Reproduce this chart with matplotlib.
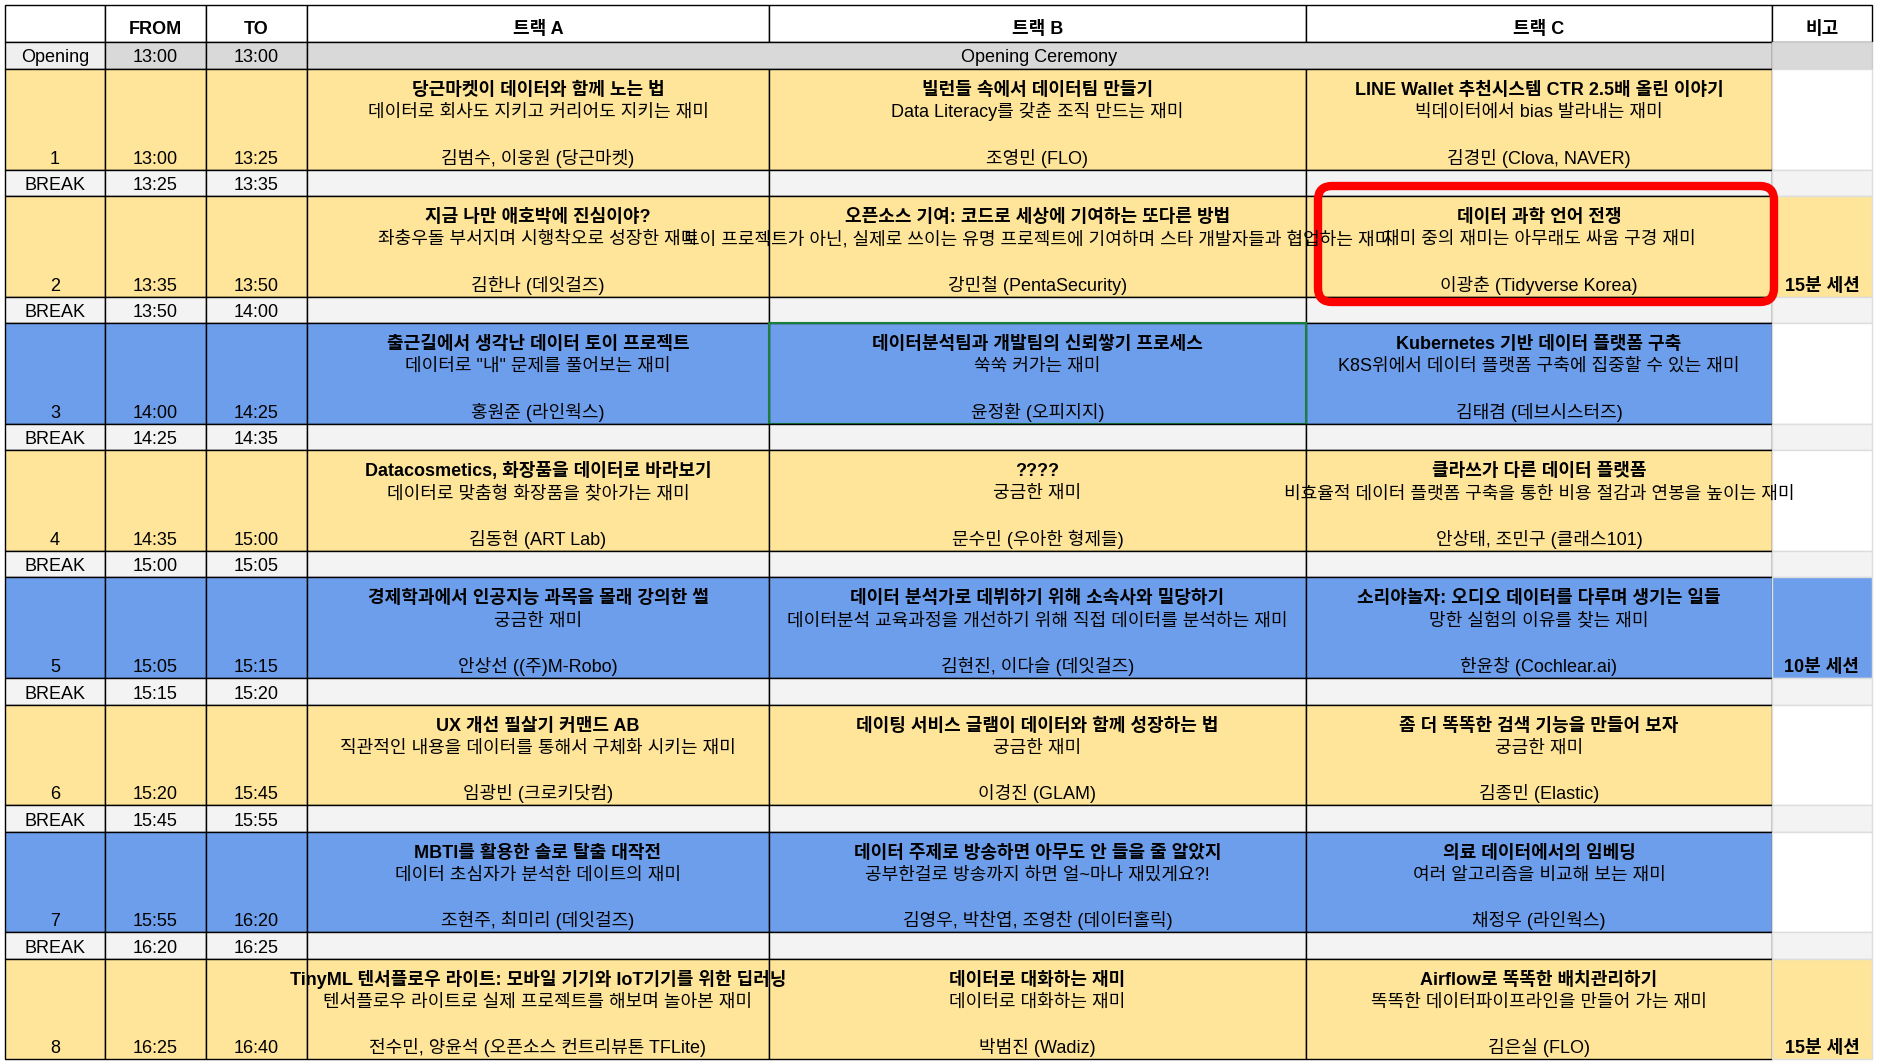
import matplotlib
matplotlib.use("Agg")
import matplotlib.pyplot as plt
from matplotlib.patches import Rectangle, FancyBboxPatch

plt.rcParams["font.family"] = ["Liberation Sans", "Noto Sans CJK KR", "DejaVu Sans"]

W, H = 1882, 1064
COLS = [5, 105, 206, 307, 769, 1306, 1772, 1872]
HEADERS = ["", "FROM", "TO", "트랙 A", "트랙 B", "트랙 C", "비고"]
HEADER_H, OPEN_H, SESS_H, BREAK_H = 37, 27, 100.5, 26.6

FROM = ["13:00", "13:35", "14:00", "14:35", "15:05", "15:20", "15:55", "16:25"]
TO = ["13:25", "13:50", "14:25", "15:00", "15:15", "15:45", "16:20", "16:40"]
BREAK_FROM = ["13:25", "13:50", "14:25", "15:00", "15:15", "15:45", "16:20"]
BREAK_TO = ["13:35", "14:00", "14:35", "15:05", "15:20", "15:55", "16:25"]
ROW_COLOR = ["y", "y", "b", "y", "b", "y", "b", "y"]
REMARKS = ["", "15분 세션", "", "", "10분 세션", "", "", "15분 세션"]

TITLES = [
    ["당근마켓이 데이터와 함께 노는 법", "빌런들 속에서 데이터팀 만들기", "LINE Wallet 추천시스템 CTR 2.5배 올린 이야기"],
    ["지금 나만 애호박에 진심이야?", "오픈소스 기여: 코드로 세상에 기여하는 또다른 방법", "데이터 과학 언어 전쟁"],
    ["출근길에서 생각난 데이터 토이 프로젝트", "데이터분석팀과 개발팀의 신뢰쌓기 프로세스", "Kubernetes 기반 데이터 플랫폼 구축"],
    ["Datacosmetics, 화장품을 데이터로 바라보기", "????", "클라쓰가 다른 데이터 플랫폼"],
    ["경제학과에서 인공지능 과목을 몰래 강의한 썰", "데이터 분석가로 데뷔하기 위해 소속사와 밀당하기", "소리야놀자: 오디오 데이터를 다루며 생기는 일들"],
    ["UX 개선 필살기 커맨드 AB", "데이팅 서비스 글램이 데이터와 함께 성장하는 법", "좀 더 똑똑한 검색 기능을 만들어 보자"],
    ["MBTI를 활용한 솔로 탈출 대작전", "데이터 주제로 방송하면 아무도 안 들을 줄 알았지", "의료 데이터에서의 임베딩"],
    ["TinyML 텐서플로우 라이트: 모바일 기기와 IoT기기를 위한 딥러닝", "데이터로 대화하는 재미", "Airflow로 똑똑한 배치관리하기"],
]
SUBTITLES = [
    ["데이터로 회사도 지키고 커리어도 지키는 재미", "Data Literacy를 갖춘 조직 만드는 재미", "빅데이터에서 bias 발라내는 재미"],
    ["좌충우돌 부서지며 시행착오로 성장한 재미", "토이 프로젝트가 아닌, 실제로 쓰이는 유명 프로젝트에 기여하며 스타 개발자들과 협업하는 재미", "재미 중의 재미는 아무래도 싸움 구경 재미"],
    ["데이터로 \"내\" 문제를 풀어보는 재미", "쑥쑥 커가는 재미", "K8S위에서 데이터 플랫폼 구축에 집중할 수 있는 재미"],
    ["데이터로 맞춤형 화장품을 찾아가는 재미", "궁금한 재미", "비효율적 데이터 플랫폼 구축을 통한 비용 절감과 연봉을 높이는 재미"],
    ["궁금한 재미", "데이터분석 교육과정을 개선하기 위해 직접 데이터를 분석하는 재미", "망한 실험의 이유를 찾는 재미"],
    ["직관적인 내용을 데이터를 통해서 구체화 시키는 재미", "궁금한 재미", "궁금한 재미"],
    ["데이터 초심자가 분석한 데이트의 재미", "공부한걸로 방송까지 하면 얼~마나 재밌게요?!", "여러 알고리즘을 비교해 보는 재미"],
    ["텐서플로우 라이트로 실제 프로젝트를 해보며 놀아본 재미", "데이터로 대화하는 재미", "똑똑한 데이터파이프라인을 만들어 가는 재미"],
]
SPEAKERS = [
    ["김범수, 이웅원 (당근마켓)", "조영민 (FLO)", "김경민 (Clova, NAVER)"],
    ["김한나 (데잇걸즈)", "강민철 (PentaSecurity)", "이광춘 (Tidyverse Korea)"],
    ["홍원준 (라인웍스)", "윤정환 (오피지지)", "김태겸 (데브시스터즈)"],
    ["김동현 (ART Lab)", "문수민 (우아한 형제들)", "안상태, 조민구 (클래스101)"],
    ["안상선 ((주)M-Robo)", "김현진, 이다슬 (데잇걸즈)", "한윤창 (Cochlear.ai)"],
    ["임광빈 (크로키닷컴)", "이경진 (GLAM)", "김종민 (Elastic)"],
    ["조현주, 최미리 (데잇걸즈)", "김영우, 박찬엽, 조영찬 (데이터홀릭)", "채정우 (라인웍스)"],
    ["전수민, 양윤석 (오픈소스 컨트리뷰톤 TFLite)", "박범진 (Wadiz)", "김은실 (FLO)"],
]

COLORS = {"y": "#FFE599", "b": "#6D9EEB"}
FS = 13

fig = plt.figure(figsize=(W / 100, H / 100), dpi=100)
ax = fig.add_axes([0, 0, 1, 1])
ax.set_xlim(0, W)
ax.set_ylim(H, 0)
ax.axis("off")
fig.patch.set_facecolor("white")


def cell(x0, x1, y0, y1, color, lw=1.0, ec="black"):
    ax.add_patch(Rectangle((x0, y0), x1 - x0, y1 - y0, fc=color, ec=ec, lw=lw))


def ctext(x0, x1, y, s, bold=False, clip=None, **kw):
    t = ax.text((x0 + x1) / 2, y, s, ha="center", va="baseline", fontsize=FS,
                fontweight="bold" if bold else "normal", **kw)
    if clip is not None:
        r = Rectangle((clip[0], clip[1]), clip[2] - clip[0], clip[3] - clip[1],
                      transform=ax.transData, fc="none", ec="none")
        t.set_clip_path(r)
    return t


# header
y = COLS and 5
for i, h in enumerate(HEADERS):
    cell(COLS[i], COLS[i + 1], y, y + HEADER_H, "white")
    ctext(COLS[i], COLS[i + 1], y + HEADER_H - 8, h, bold=True)
y += HEADER_H

# opening
cell(COLS[0], COLS[1], y, y + OPEN_H, "#EFEFEF")
cell(COLS[1], COLS[2], y, y + OPEN_H, "#D9D9D9")
cell(COLS[2], COLS[3], y, y + OPEN_H, "#D9D9D9")
cell(COLS[3], COLS[6], y, y + OPEN_H, "#D9D9D9")
cell(COLS[6], COLS[7], y, y + OPEN_H, "#D9D9D9", ec="#CCCCCC")
ctext(COLS[0], COLS[1], y + OPEN_H - 7, "Opening")
ctext(COLS[1], COLS[2], y + OPEN_H - 7, "13:00")
ctext(COLS[2], COLS[3], y + OPEN_H - 7, "13:00")
ctext(COLS[3], COLS[6], y + OPEN_H - 7, "Opening Ceremony")
y += OPEN_H

for r in range(8):
    col = COLORS[ROW_COLOR[r]]
    y0, y1 = y, y + SESS_H
    for c in range(6):
        cell(COLS[c], COLS[c + 1], y0, y1, col)
    rem_col = col if REMARKS[r] else "white"
    cell(COLS[6], COLS[7], y0, y1, rem_col, ec="#DDDDDD")
    ctext(COLS[0], COLS[1], y1 - 6, str(r + 1))
    ctext(COLS[1], COLS[2], y1 - 6, FROM[r])
    ctext(COLS[2], COLS[3], y1 - 6, TO[r])
    for k in range(3):
        x0, x1 = COLS[3 + k], COLS[4 + k]
        clip = (x0, y0, x1, y1)
        ctext(x0, x1, y0 + 26, TITLES[r][k], bold=True, clip=clip)
        ctext(x0, x1, y0 + 48, SUBTITLES[r][k], clip=clip)
        ctext(x0, x1, y1 - 6, SPEAKERS[r][k], clip=clip)
    if REMARKS[r]:
        ctext(COLS[6], COLS[7], y1 - 6, REMARKS[r], bold=True)
    if r == 2:
        ax.add_patch(Rectangle((COLS[4], y0), COLS[5] - COLS[4], SESS_H,
                               fc="none", ec="#188038", lw=1.5))
    y = y1
    if r < 7:
        y2 = y + BREAK_H
        cell(COLS[0], COLS[1], y, y2, "#F3F3F3")
        cell(COLS[1], COLS[2], y, y2, "#F3F3F3")
        cell(COLS[2], COLS[3], y, y2, "#F3F3F3")
        for c in range(3, 6):
            cell(COLS[c], COLS[c + 1], y, y2, "#F3F3F3")
        cell(COLS[6], COLS[7], y, y2, "#F3F3F3", ec="#DDDDDD")
        ctext(COLS[0], COLS[1], y2 - 6, "BREAK")
        ctext(COLS[1], COLS[2], y2 - 6, BREAK_FROM[r])
        ctext(COLS[2], COLS[3], y2 - 6, BREAK_TO[r])
        y = y2

# red hand-drawn highlight around session 2, track C
ax.add_patch(FancyBboxPatch((1322, 190), 448, 108, boxstyle="round,pad=4,rounding_size=14",
                            fc="none", ec="#FF0000", lw=6))

fig.savefig("out.png", dpi=100)
